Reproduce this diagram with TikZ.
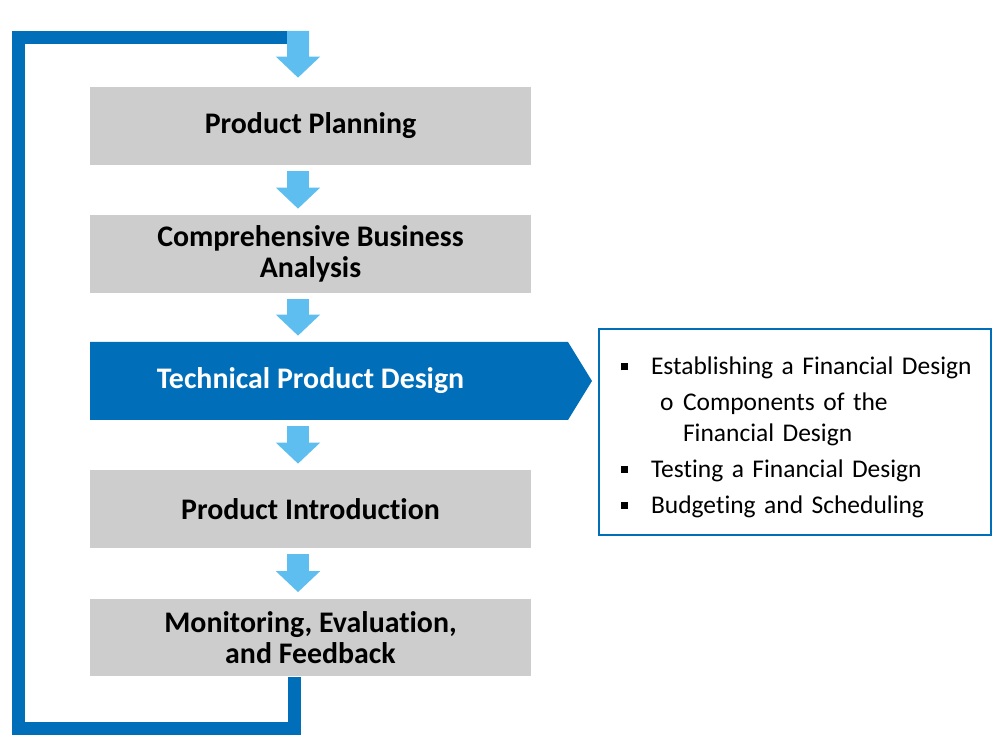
\documentclass[tikz,border=0pt]{standalone}
\usepackage{fontspec}
\setmainfont{Carlito}[Ligatures=NoCommon]
\usetikzlibrary{arrows.meta}
\definecolor{darkblue}{RGB}{0,110,184}
\definecolor{lightblue}{RGB}{94,190,240}
\definecolor{boxgrey}{RGB}{205,205,205}
\tikzset{
	stage/.style={fill=boxgrey, minimum width=8.82cm, minimum height=1.56cm, inner sep=0pt, align=center, font=\fontsize{17}{17.5}\selectfont\bfseries},
	flow/.style={lightblue, line width=0.44cm, -{Triangle[width=0.86cm,length=0.42cm]}},
	loopline/.style={darkblue, line width=0.26cm},
	detailbox/.style={draw=darkblue, line width=0.04cm, minimum height=4.12cm, text width=7.52cm, inner xsep=0.16cm, inner ysep=0pt, align=left, font=\fontsize{14.5}{17.6}\selectfont}
}
\newcommand{\sqbox}{\hspace*{0.28cm}\makebox[0.6cm][l]{\rule[0.17em]{0.14cm}{0.14cm}}}
\begin{document}
\begin{tikzpicture}[x=0.02cm,y=-0.02cm]
		\useasboundingbox (0,0) rectangle (1000,739);
		\node[stage] (plan) at (310.5,126) {Product Planning};
		\node[stage] (anal) at (310.5,254) {Comprehensive Business\\Analysis};
		\fill[darkblue] (90,342) -- (568,342) -- (592,381) -- (568,420) -- (90,420) -- cycle;
		\node[stage, fill=none, text=white] (tech) at (310.5,381) {Technical Product Design};
		\node[stage] (intro) at (310.5,509) {Product Introduction};
		\node[stage] (feed) at (310.5,637.5) {Monitoring, Evaluation,\\and Feedback};
		\foreach \a/\b in {plan/anal, anal/tech, tech/intro, intro/feed}
			\draw[flow] ([xshift=-0.25cm,yshift=-0.12cm]\a.south) -- ([xshift=-0.25cm,yshift=0.12cm]\b.north);
		\coordinate (ret) at (18.5,728);
		\coordinate (top) at (298,31);
		\draw[loopline] ([xshift=-0.32cm]feed.south) |- (ret) |- (295,37.5);
		\draw[flow] (top) -- ([xshift=-0.25cm,yshift=0.18cm]plan.north);
		\node[detailbox] (detail) at (795,432) {\rule{0pt}{16pt}\sqbox Establishing a Financial Design\\[2.8pt]
			\hspace*{1.06cm}\makebox[0.46cm][l]{o}Components of the\\
			\hspace*{1.52cm}Financial Design\\[2.8pt]
			\sqbox Testing a Financial Design\\[2.8pt]
			\sqbox Budgeting and Scheduling};
	\end{tikzpicture}
\end{document}
